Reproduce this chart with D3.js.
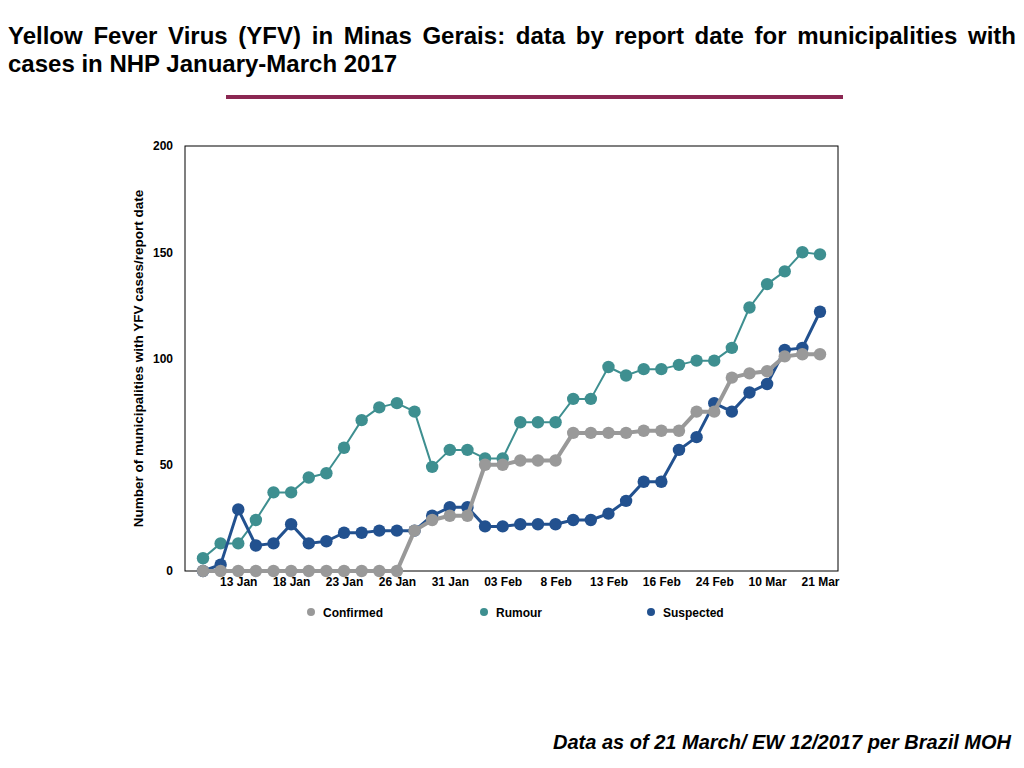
<!DOCTYPE html>
<html>
<head>
<meta charset="utf-8">
<script src="https://cdn.jsdelivr.net/npm/d3@7"></script>
<style>
  body { margin: 0; background: #fff; }
  svg { font-family: "Liberation Sans", Arial, Helvetica, sans-serif; }
</style>
</head>
<body>
<svg id="chart" width="1024" height="768"></svg>
<script>
// report dates (only every third one is labelled on the axis)
const dates = [
  "11 Jan", "12 Jan", "13 Jan", "16 Jan", "17 Jan", "18 Jan", "19 Jan", "20 Jan", "23 Jan",
  "24 Jan", "25 Jan", "26 Jan", "27 Jan", "30 Jan", "31 Jan", "01 Feb", "02 Feb", "03 Feb",
  "06 Feb", "07 Feb", "8 Feb", "09 Feb", "10 Feb", "13 Feb", "14 Feb", "15 Feb", "16 Feb",
  "17 Feb", "20 Feb", "24 Feb", "03 Mar", "07 Mar", "10 Mar", "14 Mar", "17 Mar", "21 Mar"
];
const confirmed = [0, 0, 0, 0, 0, 0, 0, 0, 0, 0, 0, 0, 19, 24, 26, 26, 50, 50, 52, 52, 52, 65, 65, 65,
  65, 66, 66, 66, 75, 75, 91, 93, 94, 101, 102, 102];
const rumour = [6, 13, 13, 24, 37, 37, 44, 46, 58, 71, 77, 79, 75, 49, 57, 57, 53, 53, 70, 70, 70, 81, 81, 96,
  92, 95, 95, 97, 99, 99, 105, 124, 135, 141, 150, 149];
const suspected = [0, 3, 29, 12, 13, 22, 13, 14, 18, 18, 19, 19, 19, 26, 30, 30, 21, 21, 22, 22, 22, 24, 24, 27,
  33, 42, 42, 57, 63, 79, 75, 84, 88, 104, 105, 122];
const yTicks = [0, 50, 100, 150, 200];

const series = [
  { name: "Rumour", values: rumour, color: "#3e8f90", width: 2 },
  { name: "Suspected", values: suspected, color: "#22518f", width: 3 },
  { name: "Confirmed", values: confirmed, color: "#999999", width: 4 }
];
const legendOrder = ["Confirmed", "Rumour", "Suspected"];

const svg = d3.select("#chart");
const margin = { left: 185, right: 838, top: 146, bottom: 571 };

const x = d3.scalePoint()
  .domain(dates)
  .range([margin.left + 18, margin.right - 18]);
const y = d3.scaleLinear()
  .domain([0, 200])
  .range([margin.bottom, margin.top]);

// title, justified on the first line
const titleLines = [
  "Yellow Fever Virus (YFV) in Minas Gerais: data by report date for municipalities with",
  "cases in NHP January-March 2017"
];
const title = svg.append("g")
  .attr("font-size", 24)
  .attr("font-weight", "bold")
  .attr("fill", "#000");
{
  const words = titleLines[0].split(" ");
  const tmp = words.map(w => title.append("text").attr("y", 44).text(w));
  const widths = tmp.map(t => t.node().getComputedTextLength());
  const total = d3.sum(widths);
  const gap = (1016 - 8 - total) / (words.length - 1);
  let cx = 8;
  tmp.forEach((t, i) => { t.attr("x", cx); cx += widths[i] + gap; });
}
title.append("text").attr("x", 8).attr("y", 72).text(titleLines[1]);

svg.append("line")
  .attr("x1", 226).attr("x2", 843)
  .attr("y1", 97).attr("y2", 97)
  .attr("stroke", "#8b2752")
  .attr("stroke-width", 4);

// plot frame
svg.append("rect")
  .attr("x", margin.left).attr("y", margin.top)
  .attr("width", margin.right - margin.left)
  .attr("height", margin.bottom - margin.top)
  .attr("fill", "none")
  .attr("stroke", "#000")
  .attr("stroke-width", 1);

// y axis
const yAxis = svg.append("g")
  .attr("transform", `translate(${margin.left},0)`)
  .call(d3.axisLeft(y).tickValues(yTicks).tickSize(0).tickPadding(12));
yAxis.select(".domain").remove();
yAxis.selectAll("text")
  .attr("font-size", 12)
  .attr("font-weight", "bold")
  .attr("font-family", "Liberation Sans, Arial, sans-serif")
  .attr("fill", "#000");

// x axis
const xAxis = svg.append("g")
  .attr("transform", `translate(0,${margin.bottom})`)
  .call(d3.axisBottom(x)
    .tickValues(dates.filter((d, i) => i % 3 === 2))
    .tickSize(0).tickPadding(6));
xAxis.select(".domain").remove();
xAxis.selectAll("text")
  .attr("font-size", 12)
  .attr("font-weight", "bold")
  .attr("font-family", "Liberation Sans, Arial, sans-serif")
  .attr("fill", "#000");

svg.append("text")
  .attr("transform", `translate(143,${(margin.top + margin.bottom) / 2}) rotate(-90)`)
  .attr("text-anchor", "middle")
  .attr("font-size", 13.5)
  .attr("font-weight", "bold")
  .text("Number of municipalities with YFV cases/report date");

// lines and markers
const line = d3.line()
  .x((d, i) => x(dates[i]))
  .y(d => y(d));

series.forEach(s => {
  const g = svg.append("g");
  g.append("path")
    .attr("d", line(s.values))
    .attr("fill", "none")
    .attr("stroke", s.color)
    .attr("stroke-width", s.width)
    .attr("stroke-linejoin", "round");
  g.selectAll("circle")
    .data(s.values)
    .join("circle")
    .attr("cx", (d, i) => x(dates[i]))
    .attr("cy", d => y(d))
    .attr("r", 6.2)
    .attr("fill", s.color);
});

// legend
const legendX = [311, 484, 651];
const legend = svg.append("g");
legendOrder.forEach((name, i) => {
  const s = series.find(d => d.name === name);
  legend.append("circle")
    .attr("cx", legendX[i]).attr("cy", 612)
    .attr("r", 4)
    .attr("fill", s.color);
  legend.append("text")
    .attr("x", legendX[i] + 12).attr("y", 617)
    .attr("font-size", 12)
    .attr("font-weight", "bold")
    .text(name);
});

// source note
svg.append("text")
  .attr("x", 1011).attr("y", 749)
  .attr("text-anchor", "end")
  .attr("font-size", 20)
  .attr("font-weight", "bold")
  .attr("font-style", "italic")
  .text("Data as of 21 March/ EW 12/2017 per Brazil MOH");
</script>
</body>
</html>
